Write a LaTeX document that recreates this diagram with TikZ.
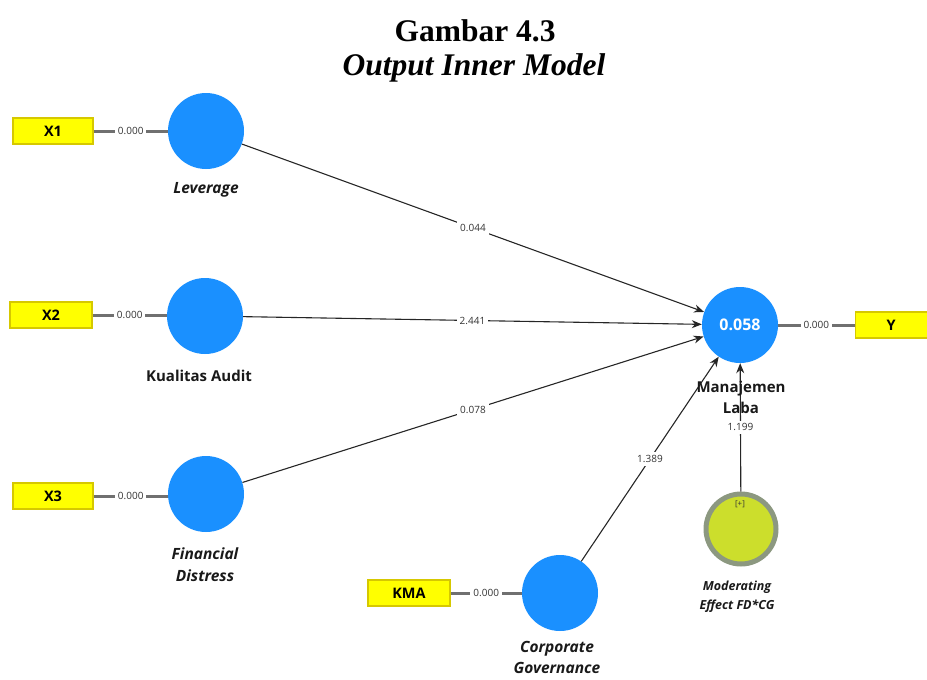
\documentclass[tikz,border=0pt]{standalone}
\usepackage{fontspec}
\setmainfont{Liberation Serif}
\newfontfamily\lblfont{Open Sans}
\usetikzlibrary{arrows.meta}
\definecolor{lvblue}{RGB}{26,144,255}
\definecolor{indyellow}{RGB}{255,255,0}
\definecolor{indborder}{RGB}{214,200,0}
\definecolor{modfill}{RGB}{204,222,44}
\definecolor{modring}{RGB}{140,152,128}
\definecolor{loadgray}{RGB}{112,112,112}
\tikzset{
  latent/.style={circle, fill=lvblue, draw=none, minimum size=76pt, inner sep=0pt},
  modlatent/.style={circle, fill=modfill, draw=modring, line width=5pt, minimum size=70pt, inner sep=0pt},
  indicator/.style={rectangle, fill=indyellow, draw=indborder, line width=1.2pt,
    minimum width=80pt, minimum height=26pt, inner sep=0pt,
    font=\lblfont\bfseries\fontsize{14.5}{16}\selectfont},
  loading/.style={draw=loadgray, line width=3pt},
  pathline/.style={draw=black!85, line width=1.1pt, -{Stealth[length=10pt,width=8pt]}},
  coef/.style={fill=white, inner sep=3pt, font=\lblfont\fontsize{10}{11}\selectfont, text=black!80},
  lvname/.style={align=center, font=\lblfont\bfseries\itshape\fontsize{15.5}{22}\selectfont, text=black!90},
  lvnameup/.style={align=center, font=\lblfont\bfseries\fontsize{15}{21}\selectfont, text=black!90},
}
\begin{document}
\begin{tikzpicture}[x=1pt,y=-1pt]
\useasboundingbox (0,0) rectangle (927,680);

% title
\node[font=\bfseries\fontsize{31.5}{34}\selectfont] (t1) at (475,31) {Gambar 4.3};
\node[font=\bfseries\itshape\fontsize{31.5}{34}\selectfont] (t2) at (474,68) {Output Inner Model};

% latent variables
\node[latent] (lev) at (206,131) {};
\node[latent] (ka)  at (205,316) {};
\node[latent] (fd)  at (206,494) {};
\node[latent] (cg)  at (560,593) {};
\node[latent, font=\lblfont\bfseries\fontsize{16}{18}\selectfont, text=white] (ml) at (740,325) {0.058};
\node[modlatent] (mod) at (741,529) {};
\node[font=\lblfont\fontsize{8}{9}\selectfont, text=black!80] (plus) at (740,504) {[+]};

% indicators
\node[indicator] (x1)  at (53,131) {X1};
\node[indicator, minimum width=82pt] (x2)  at (51,315) {X2};
\node[indicator] (x3)  at (53,496) {X3};
\node[indicator, minimum width=82pt] (kma) at (409,593) {KMA};
\node[indicator, minimum width=72pt, anchor=west] (y) at (854.5,325) {Y};

% outer loadings
\draw[loading] (x1.east) -- node[coef] {0.000} (lev.west |- x1.east);
\draw[loading] (x2.east) -- node[coef] {0.000} (ka.west |- x2.east);
\draw[loading] (x3.east) -- node[coef] {0.000} (fd.west |- x3.east);
\draw[loading] (kma.east) -- node[coef] {0.000} (cg.west |- kma.east);
\draw[loading] (ml.east) -- node[coef] {0.000} (y.west);

% structural paths
\draw[pathline] (lev) -- node[coef] {0.044} (ml);
\draw[pathline] (ka)  -- node[coef] {2.441} (ml);
\draw[pathline] (fd)  -- node[coef] {0.078} (ml);
\draw[pathline] (cg)  -- node[coef] {1.389} (ml);
\draw[pathline] (mod) -- node[coef] {1.199} (ml);

% variable names
\node[lvname] (nlev) at (206,190) {Leverage};
\node[lvnameup] (nka) at (199,376) {Kualitas Audit};
\node[lvname] (nfd) at (205,565) {Financial\\Distress};
\node[lvname, font=\lblfont\bfseries\itshape\fontsize{15.5}{21}\selectfont] (ncg) at (557,657) {Corporate\\Governance};
\node[lvnameup] (nml) at (741,397) {Manajemen\\Laba};
\node[align=center, font=\lblfont\bfseries\itshape\fontsize{12.5}{19}\selectfont, text=black!90] (nmod) at (737,597) {Moderating\\Effect FD*CG};
\end{tikzpicture}
\end{document}
